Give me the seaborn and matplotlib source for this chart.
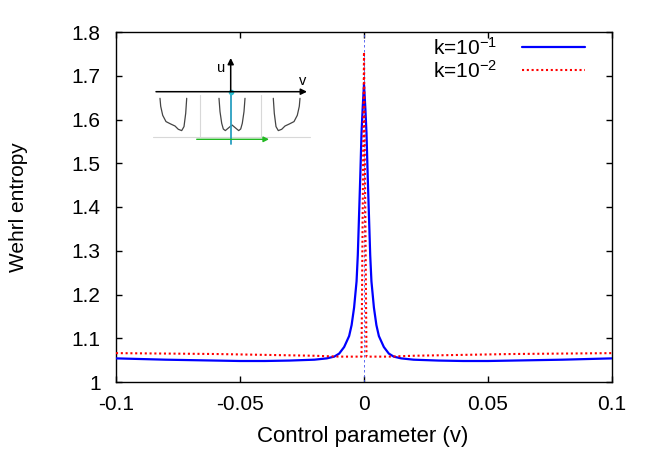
import matplotlib
matplotlib.use("Agg")
import matplotlib.pyplot as plt
import seaborn as sns
import pandas as pd

# Datos
v_k1 = [-0.1, -0.08, -0.06, -0.05, -0.04, -0.03, -0.02, -0.015, -0.012, -0.01,
        -0.008, -0.006, -0.005, -0.004, -0.003, -0.0025, -0.002, -0.0015, -0.001, -0.0005,
        0.0,
        0.0005, 0.001, 0.0015, 0.002, 0.0025, 0.003, 0.004, 0.005, 0.006, 0.008,
        0.01, 0.012, 0.015, 0.02, 0.03, 0.04, 0.05, 0.06, 0.08, 0.1]
s_k1 = [1.054, 1.051, 1.049, 1.048, 1.048, 1.049, 1.051, 1.054, 1.058, 1.065,
        1.080, 1.105, 1.130, 1.170, 1.230, 1.290, 1.380, 1.470, 1.570, 1.630,
        1.680,
        1.630, 1.570, 1.470, 1.380, 1.290, 1.230, 1.170, 1.130, 1.105, 1.080,
        1.065, 1.058, 1.054, 1.051, 1.049, 1.048, 1.048, 1.049, 1.051, 1.054]

v_k2 = [-0.1, -0.08, -0.06, -0.04, -0.02, -0.01, -0.005, -0.001, 0.0,
        0.001, 0.005, 0.01, 0.02, 0.04, 0.06, 0.08, 0.1]
s_k2 = [1.066, 1.065, 1.064, 1.062, 1.060, 1.058, 1.058, 1.058, 1.754,
        1.058, 1.058, 1.058, 1.060, 1.062, 1.064, 1.065, 1.066]

labels = ["k=10$^{-1}$", "k=10$^{-2}$"]
x_ticks = [-0.1, -0.05, 0, 0.05, 0.1]
x_ticklabels = ["-0.1", "-0.05", "0", "0.05", "0.1"]
y_ticks = [1, 1.1, 1.2, 1.3, 1.4, 1.5, 1.6, 1.7, 1.8]
y_ticklabels = ["1", "1.1", "1.2", "1.3", "1.4", "1.5", "1.6", "1.7", "1.8"]

# Esquema del recuadro (coordenadas locales en pixeles)
pozo_lado = [(0, 0), (0.7, 8), (2.7, 17), (6, 23.3), (10.7, 25.7), (15, 27.7),
             (18.3, 31), (21.7, 32.3), (24, 28.3), (25.7, 15), (26.7, 0)]
pozo_medio = [(0, 0), (1, 13.3), (2.7, 25), (4.3, 30.7), (6.3, 32.3), (8.7, 30.3),
              (13, 26.7), (17.3, 30.3), (19.7, 32.3), (21.7, 30.7), (23.3, 25),
              (25, 13.3), (26, 0)]

df1 = pd.DataFrame({"v": v_k1, "S": s_k1})
df2 = pd.DataFrame({"v": v_k2, "S": s_k2})

sns.set_style("ticks")
plt.rcParams["font.family"] = ["Liberation Sans", "DejaVu Sans"]
plt.rcParams["mathtext.default"] = "regular"
plt.rcParams["text.color"] = "black"
plt.rcParams["axes.labelcolor"] = "black"

fig = plt.figure(figsize=(6.54, 4.58), dpi=100)
ax = fig.add_axes([116 / 654, 1 - 382 / 458, 496 / 654, 350 / 458])

ax.axvline(0, color="#4455ee", lw=0.6, ls=(0, (3, 3)), zorder=1)
sns.lineplot(data=df1, x="v", y="S", ax=ax, color="#0000ff", lw=1.6,
             label=labels[0], zorder=3)
sns.lineplot(data=df2, x="v", y="S", ax=ax, color="#ff0000", lw=1.5,
             ls=(0, (1, 1.3)), label=labels[1], zorder=4)

ax.set_xlim(-0.1, 0.1)
ax.set_ylim(1, 1.8)
ax.set_xticks(x_ticks)
ax.set_xticklabels(x_ticklabels)
ax.set_yticks(y_ticks)
ax.set_yticklabels(y_ticklabels)
ax.tick_params(direction="in", length=4.5, width=1, top=True, right=True,
               labelsize=15, colors="black")
ax.tick_params(axis="x", pad=9)
ax.tick_params(axis="y", pad=11)
for sp in ax.spines.values():
    sp.set_color("black")
    sp.set_linewidth(1)

ax.set_xlabel("Control parameter (v)", fontsize=16)
ax.set_ylabel("Wehrl entropy", fontsize=15)
ax.xaxis.set_label_coords(0.497, -0.126)
ax.yaxis.set_label_coords(-0.178, 0.5)

leg = ax.legend(loc="upper right", frameon=False, markerfirst=False,
                fontsize=15, handlelength=3.0, handletextpad=1.2,
                labelspacing=0.05, borderaxespad=0.2,
                bbox_to_anchor=(0.97, 1.022))
for t in leg.get_texts():
    t.set_ha("right")
    t.set_color("black")

# Recuadro con el esquema de pozos, en coordenadas de pixel
ins = fig.add_axes([0, 0, 1, 1], zorder=5)
ins.set_xlim(0, 654)
ins.set_ylim(458, 0)
ins.axis("off")
ins.patch.set_alpha(0)

gris = "#d8d8d8"
ins.plot([153, 310], [136.7, 136.7], color=gris, lw=0.8)
ins.plot([200, 200], [95, 136.7], color=gris, lw=0.8)
ins.plot([260.7, 260.7], [95, 136.7], color=gris, lw=0.8)

x0, y0 = 160, 98.3
ins.plot([x0 + p[0] for p in pozo_lado], [y0 + p[1] for p in pozo_lado],
         color="#444444", lw=0.9)
x0 = 219
ins.plot([x0 + p[0] for p in pozo_medio], [y0 + p[1] for p in pozo_medio],
         color="#444444", lw=0.9)
x0 = 273.3
ins.plot([x0 + 26.7 - p[0] for p in pozo_lado], [y0 + p[1] for p in pozo_lado],
         color="#444444", lw=0.9)

ins.annotate("", xy=(307, 91.7), xytext=(156, 91.7),
             arrowprops=dict(arrowstyle="-|>", color="black", lw=1.1,
                             mutation_scale=9, shrinkA=0, shrinkB=0))
ins.annotate("", xy=(230.7, 58), xytext=(230.7, 91.7),
             arrowprops=dict(arrowstyle="-|>", color="black", lw=1.1,
                             mutation_scale=9, shrinkA=0, shrinkB=0))
ins.plot([230.7, 230.7], [91.7, 144], color="#2a9fc0", lw=1.3)
ins.plot([230.7], [91.7], marker="o", ms=3, color="#2abfd0")
ins.annotate("", xy=(269, 139.3), xytext=(196.7, 139.3),
             arrowprops=dict(arrowstyle="-|>", color="#22b822", lw=1.0,
                             mutation_scale=8, shrinkA=0, shrinkB=0))
ins.text(221.5, 68, "u", fontsize=10.5, ha="center", va="center")
ins.text(303, 81, "v", fontsize=10.5, ha="center", va="center")

fig.savefig("out.png", dpi=100)
